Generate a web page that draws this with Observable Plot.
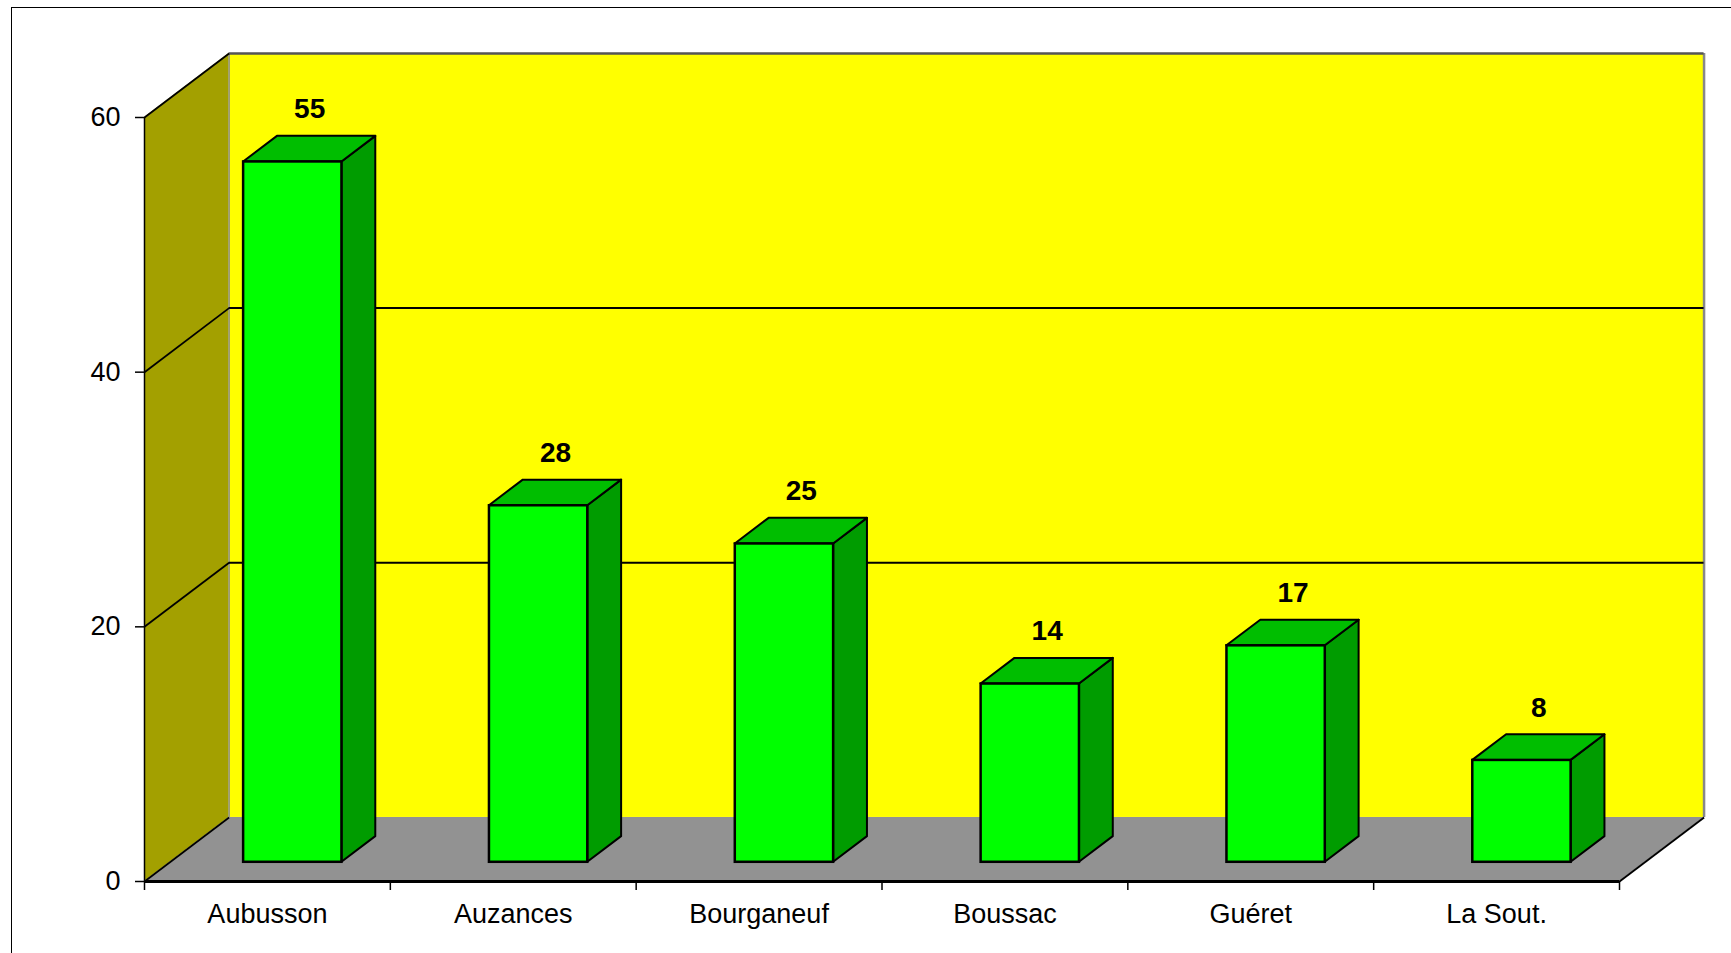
<!DOCTYPE html>
<html>
<head>
<meta charset="utf-8">
<script src="https://cdn.jsdelivr.net/npm/d3@7"></script>
<script src="https://cdn.jsdelivr.net/npm/@observablehq/plot@0.6"></script>
<style>
  html, body { margin: 0; padding: 0; background: white; overflow: hidden; }
  #wrap { position: relative; width: 1731px; height: 953px; }
  #wrap svg { display: block; }
  #border { position: absolute; left: 11px; top: 7px; width: 1740px; height: 960px;
            border-left: 1.5px solid #000; border-top: 1.5px solid #000; pointer-events: none; }
</style>
</head>
<body>
<div id="wrap"><div id="border"></div></div>
<script>
const categories = ["Aubusson", "Auzances", "Bourganeuf", "Boussac", "Guéret", "La Sout."];
const values = [55, 28, 25, 14, 17, 8];
const yTicks = [0, 20, 40, 60];

// oblique 3D geometry (in data units)
const DX = 0.344, DY = 5.03;      // depth offset of the back wall
const F0 = 0.3, F1 = 0.7;         // bar front/back depth fractions
const W0 = 0.3, W1 = 0.7;         // bar left/right within slot
const n = categories.length;
const yMax = yTicks[yTicks.length - 1];

const rows = categories.map((c, i) => ({c, i, v: values[i]}));

const leftWall = [{x: 0, y1: 0, y2: yMax}, {x: DX, y1: DY, y2: yMax + DY}];
const floor = [{y: 0, x1: 0, x2: n}, {y: DY, x1: DX, x2: n + DX}];

const sides = rows.flatMap(d => [
  {c: d.c, x: d.i + W1 + F0 * DX, y1: F0 * DY, y2: d.v + F0 * DY},
  {c: d.c, x: d.i + W1 + F1 * DX, y1: F1 * DY, y2: d.v + F1 * DY}
]);
const tops = rows.flatMap(d => [
  {c: d.c, y: d.v + F0 * DY, x1: d.i + W0 + F0 * DX, x2: d.i + W1 + F0 * DX},
  {c: d.c, y: d.v + F1 * DY, x1: d.i + W0 + F1 * DX, x2: d.i + W1 + F1 * DX}
]);

const chart = Plot.plot({
  width: 1731,
  height: 953,
  marginLeft: 144,
  marginRight: 112,
  marginTop: 117,
  marginBottom: 72,
  x: {type: "linear", domain: [0, n]},
  y: {type: "linear", domain: [0, yMax]},
  style: {fontFamily: "'Liberation Sans', Arial, sans-serif", fontSize: "27px", background: "transparent", overflow: "visible"},
  marks: [
    // walls & floor
    Plot.areaY(leftWall, {x: "x", y1: "y1", y2: "y2", fill: "#A3A000"}),
    Plot.rect([0], {x1: () => DX, x2: () => n + DX, y1: () => DY, y2: () => yMax + DY, fill: "#FFFF00"}),
    Plot.areaX(floor, {y: "y", x1: "x1", x2: "x2", fill: "#929292"}),
    // wall edges
    Plot.ruleX([0], {x: () => DX, y1: () => DY, y2: () => yMax + DY, stroke: "#888", strokeWidth: 1.5}),
    Plot.ruleX([0], {x: () => n + DX, y1: () => DY, y2: () => yMax + DY, stroke: "#888", strokeWidth: 2.5}),
    Plot.ruleY([0], {y: () => yMax + DY, x1: () => DX, x2: () => n + DX, stroke: "#555", strokeWidth: 2.5}),
    // gridlines
    Plot.ruleY(yTicks.filter(t => t > 0 && t < yMax), {y: t => t + DY, x1: () => DX, x2: () => n + DX, stroke: "#000", strokeWidth: 2}),
    Plot.link(yTicks, {x1: () => 0, y1: t => t, x2: () => DX, y2: t => t + DY, stroke: "#000", strokeWidth: 1.8}),
    // floor right edge
    Plot.link([n], {x1: d => d, y1: () => 0, x2: d => d + DX, y2: () => DY, stroke: "#000", strokeWidth: 2}),
    // axes
    Plot.ruleX([0], {y1: () => 0, y2: () => yMax, stroke: "#000", strokeWidth: 1.5}),
    Plot.ruleY([0], {x1: () => 0, x2: () => n, stroke: "#000", strokeWidth: 3}),
    Plot.axisY(yTicks, {tickSize: 9, tickPadding: 15, fontSize: 27, stroke: "#000", strokeWidth: 1.5, fill: "#000"}),
    Plot.axisX(d3.range(n + 1), {tickSize: 9, tickFormat: () => "", stroke: "#000", strokeWidth: 1.5}),
    Plot.text(rows, {x: d => d.i + 0.5, y: () => 0, text: "c", dy: 33, fontSize: 27, fill: "#000", lineAnchor: "middle"}),
    // bars
    Plot.areaY(sides, {x: "x", y1: "y1", y2: "y2", z: "c", fill: "#009C00", stroke: "#000", strokeWidth: 2, strokeLinejoin: "round"}),
    Plot.areaX(tops, {y: "y", x1: "x1", x2: "x2", z: "c", fill: "#00BE00", stroke: "#000", strokeWidth: 2, strokeLinejoin: "round"}),
    Plot.rect(rows, {x1: d => d.i + W0 + F0 * DX, x2: d => d.i + W1 + F0 * DX, y1: () => F0 * DY, y2: d => d.v + F0 * DY,
                     fill: "#00FF00", stroke: "#000", strokeWidth: 2.5}),
    // value labels
    Plot.text(rows, {x: d => d.i + 0.5 + 0.5 * DX, y: d => d.v + F1 * DY, text: d => String(d.v), dy: -27,
                     fontSize: 28, fontWeight: "bold", fill: "#000", lineAnchor: "middle"})
  ]
});
document.getElementById("wrap").prepend(chart);
</script>
</body>
</html>
